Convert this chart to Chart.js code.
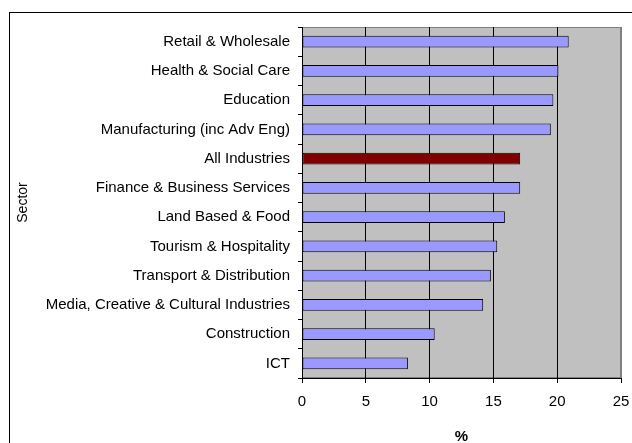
<!DOCTYPE html>
<html>
<head>
<meta charset="utf-8">
<script src="https://cdn.jsdelivr.net/npm/chart.js@4.4.0/dist/chart.umd.min.js"></script>
<style>
  body { margin: 0; background: #fff; }
  canvas { display: block; }
</style>
</head>
<body>
<canvas id="chart" width="632" height="443"></canvas>
<script>
// sectors, top to bottom
const sectors = [
  "Retail & Wholesale",
  "Health & Social Care",
  "Education",
  "Manufacturing (inc Adv Eng)",
  "All Industries",
  "Finance & Business Services",
  "Land Based & Food",
  "Tourism & Hospitality",
  "Transport & Distribution",
  "Media, Creative & Cultural Industries",
  "Construction",
  "ICT"
];
const percentages = [20.9, 20.1, 19.7, 19.5, 17.1, 17.1, 15.9, 15.3, 14.8, 14.2, 10.4, 8.3];
const xTicks = [0, 5, 10, 15, 20, 25];

const barColour = "#9999ff";
const totalColour = "#800000";

// grey plot background plus the frame round the whole chart
const frame = {
  id: "frame",
  beforeDraw(chart) {
    const { ctx, chartArea: a } = chart;
    ctx.save();
    ctx.fillStyle = "#c0c0c0";
    ctx.fillRect(a.left, a.top, a.right - a.left, a.bottom - a.top);
    ctx.strokeStyle = "#808080";
    ctx.lineWidth = 1;
    ctx.strokeRect(a.left + 0.5, a.top + 0.5, a.right - a.left - 1, a.bottom - a.top - 1);
    ctx.strokeStyle = "#000";
    ctx.strokeRect(9.5, 12.5, 700, 500);
    ctx.restore();
  }
};

const font = { family: "'Liberation Sans', Arial, sans-serif", size: 15 };

new Chart(document.getElementById("chart"), {
  type: "bar",
  data: {
    labels: sectors,
    datasets: [{
      data: percentages,
      backgroundColor: sectors.map(s => s === "All Industries" ? totalColour : barColour),
      borderColor: "#000",
      borderWidth: 1,
      borderSkipped: false,
      barPercentage: 0.41,
      categoryPercentage: 1
    }]
  },
  options: {
    indexAxis: "y",
    responsive: false,
    animation: false,
    layout: { padding: { top: 27, right: 11, bottom: 0, left: 0 } },
    plugins: {
      legend: { display: false },
      tooltip: { enabled: false }
    },
    scales: {
      x: {
        min: 0,
        max: 25,
        afterBuildTicks: s => { s.ticks = xTicks.map(v => ({ value: v })); },
        afterFit: s => {
          s.height = 65;
          s.paddingLeft = 0;
          s.paddingRight = 0;
        },
        border: { color: "#000", width: 1 },
        grid: {
          color: c => (c.tick && c.tick.value === 25 ? "#808080" : "#000"),
          tickColor: "#000",
          tickLength: 5
        },
        ticks: { color: "#000", font, padding: 10, maxRotation: 0 },
        title: {
          display: true,
          text: "%",
          color: "#000",
          font: { ...font, weight: "bold" },
          padding: { top: 0, bottom: -3 }
        }
      },
      y: {
        afterFit: s => { s.width = 302; },
        border: { color: "#000", width: 1 },
        grid: {
          offset: true,
          drawOnChartArea: false,
          tickColor: "#000",
          tickLength: 4
        },
        ticks: { color: "#000", font, padding: 8, autoSkip: false },
        title: {
          display: true,
          text: "Sector",
          color: "#000",
          font: { ...font, size: 14 },
          padding: { top: 15, bottom: 0 }
        }
      }
    }
  },
  plugins: [frame]
});
</script>
</body>
</html>
